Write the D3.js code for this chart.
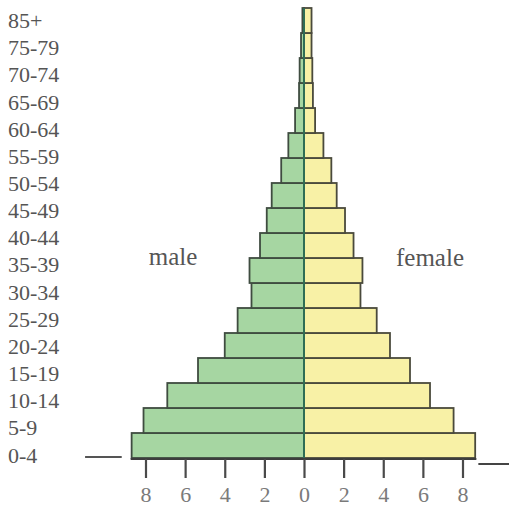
<!DOCTYPE html>
<html>
<head>
<meta charset="utf-8">
<script src="https://cdn.jsdelivr.net/npm/d3@7"></script>
<style>
  html, body { margin: 0; padding: 0; background: #fff; }
  svg { display: block; }
</style>
</head>
<body>
<svg id="chart" width="509" height="508"></svg>
<script>
// Age groups, youngest first (one bar row each)
const ageGroups = ["0-4", "5-9", "10-14", "15-19", "20-24", "25-29", "30-34", "35-39",
  "40-44", "45-49", "50-54", "55-59", "60-64", "65-69", "70-74", "75-79", "80-84", "85+"];

// Share of population (%) per age group
const maleValues = [8.7, 8.1, 6.9, 5.35, 4.0, 3.35, 2.65, 2.75, 2.22, 1.88, 1.63, 1.15,
  0.79, 0.45, 0.25, 0.22, 0.15, 0.08];
const femaleValues = [8.64, 7.55, 6.36, 5.35, 4.34, 3.67, 2.85, 2.95, 2.5, 2.07, 1.65, 1.38,
  0.98, 0.56, 0.45, 0.42, 0.38, 0.38];

// Labels printed in the left column
const rowLabels = ["0-4", "5-9", "10-14", "15-19", "20-24", "25-29", "30-34", "35-39",
  "40-44", "45-49", "50-54", "55-59", "60-64", "65-69", "70-74", "75-79", "85+"];

// Horizontal axis ticks (percent on each side of the centre)
const tickValues = [-8, -6, -4, -2, 0, 2, 4, 6, 8];

const svg = d3.select("#chart");

const x = d3.scaleLinear().domain([-8, 8]).range([145.5, 462.5]);
const y = d3.scaleBand().domain(ageGroups).range([458, 8]).paddingInner(0);
const labelY = d3.scalePoint().domain(rowLabels).range([455, 20.7]);

const rows = ageGroups.map((g, i) => ({ group: g, male: maleValues[i], female: femaleValues[i] }));

const serif = "'Liberation Serif', 'Times New Roman', serif";

// Male bars (left of centre)
svg.append("g")
  .selectAll("rect")
  .data(rows)
  .join("rect")
  .attr("x", d => x(-d.male))
  .attr("y", d => y(d.group))
  .attr("width", d => x(0) - x(-d.male))
  .attr("height", y.bandwidth())
  .attr("fill", "#a6d6a2")
  .attr("stroke", "#3f4c40")
  .attr("stroke-width", 1.8);

// Female bars (right of centre)
svg.append("g")
  .selectAll("rect")
  .data(rows)
  .join("rect")
  .attr("x", x(0))
  .attr("y", d => y(d.group))
  .attr("width", d => x(d.female) - x(0))
  .attr("height", y.bandwidth())
  .attr("fill", "#f8f1a6")
  .attr("stroke", "#4a4a3c")
  .attr("stroke-width", 1.8);

// Centre line
svg.append("line")
  .attr("x1", x(0)).attr("x2", x(0))
  .attr("y1", y.range()[1]).attr("y2", y.range()[0] + 1)
  .attr("stroke", "#2f6d55")
  .attr("stroke-width", 2);

// Baseline with its short extensions
const base = y.range()[0];
svg.append("line")
  .attr("x1", x(-8.75)).attr("x2", x(8.7))
  .attr("y1", base + 1).attr("y2", base + 1)
  .attr("stroke", "#3d3d3d").attr("stroke-width", 2);
svg.append("line")
  .attr("x1", x(-11.05)).attr("x2", x(-9.2))
  .attr("y1", base - 1).attr("y2", base - 1)
  .attr("stroke", "#555").attr("stroke-width", 2);
svg.append("line")
  .attr("x1", x(8.8)).attr("x2", x(10.4))
  .attr("y1", base + 6).attr("y2", base + 6)
  .attr("stroke", "#444").attr("stroke-width", 2);

// Bottom axis: ticks and labels
const axis = d3.axisBottom(x)
  .tickValues(tickValues)
  .tickSize(19)
  .tickPadding(8)
  .tickFormat(d => Math.abs(d));

const axisG = svg.append("g")
  .attr("transform", `translate(0,${base + 1})`)
  .call(axis);
axisG.select(".domain").remove();
axisG.selectAll(".tick line")
  .attr("stroke", "#4a4a4a")
  .attr("stroke-width", 2.2);
axisG.selectAll(".tick text")
  .attr("font-family", serif)
  .attr("font-size", 22)
  .attr("fill", "#7a7a7a");

// Age labels on the left
svg.append("g")
  .selectAll("text")
  .data(rowLabels)
  .join("text")
  .attr("x", 8)
  .attr("y", d => labelY(d) + 7.5)
  .attr("font-family", serif)
  .attr("font-size", 22)
  .attr("fill", "#555")
  .text(d => d);

// Side captions
svg.append("text")
  .attr("x", 173).attr("y", 265)
  .attr("text-anchor", "middle")
  .attr("font-family", serif)
  .attr("font-size", 25)
  .attr("fill", "#555")
  .text("male");
svg.append("text")
  .attr("x", 430).attr("y", 266)
  .attr("text-anchor", "middle")
  .attr("font-family", serif)
  .attr("font-size", 25)
  .attr("fill", "#555")
  .text("female");
</script>
</body>
</html>
